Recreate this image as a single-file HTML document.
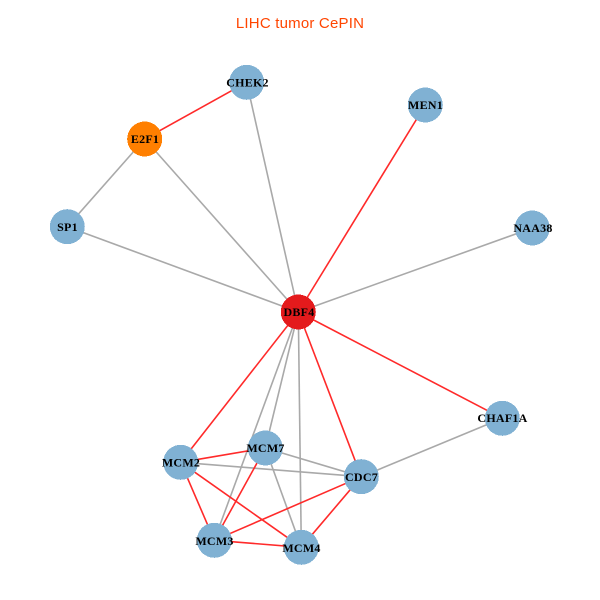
<!DOCTYPE html>
<html><head><meta charset="utf-8"><style>
html,body{margin:0;padding:0;background:#fff;width:600px;height:600px;overflow:hidden}
svg{display:block}
.n text{font:bold 12px "Liberation Serif",serif;fill:#000;text-anchor:middle;letter-spacing:.25px}
.n circle{shape-rendering:crispEdges}
</style></head><body>
<svg width="600" height="600" viewBox="0 0 600 600" xmlns="http://www.w3.org/2000/svg">
<rect width="600" height="600" fill="#fff"/>
<text x="300" y="28" font-family="Liberation Sans, sans-serif" font-size="15" letter-spacing=".2" fill="#FF4500" text-anchor="middle">LIHC tumor CePIN</text>
<g stroke="#A9A9A9" stroke-width="1.6" fill="none">
<line x1="144.7" y1="139" x2="67.3" y2="226.7"/>
<line x1="144.7" y1="139" x2="298.3" y2="312"/>
<line x1="246.7" y1="82.3" x2="298.3" y2="312"/>
<line x1="67.3" y1="226.7" x2="298.3" y2="312"/>
<line x1="532.3" y1="228" x2="298.3" y2="312"/>
<line x1="298.3" y1="312" x2="214.3" y2="540.3"/>
<line x1="298.3" y1="312" x2="265.3" y2="448"/>
<line x1="298.3" y1="312" x2="301.3" y2="547.3"/>
<line x1="180.7" y1="462.3" x2="361.3" y2="476.7"/>
<line x1="265.3" y1="448" x2="361.3" y2="476.7"/>
<line x1="265.3" y1="448" x2="301.3" y2="547.3"/>
<line x1="361.3" y1="476.7" x2="502.3" y2="418.3"/>
</g>
<g stroke="#FF2A2A" stroke-width="1.6" fill="none">
<line x1="144.7" y1="139" x2="246.7" y2="82.3"/>
<line x1="425.3" y1="105" x2="298.3" y2="312"/>
<line x1="298.3" y1="312" x2="180.7" y2="462.3"/>
<line x1="298.3" y1="312" x2="361.3" y2="476.7"/>
<line x1="298.3" y1="312" x2="502.3" y2="418.3"/>
<line x1="180.7" y1="462.3" x2="265.3" y2="448"/>
<line x1="180.7" y1="462.3" x2="214.3" y2="540.3"/>
<line x1="180.7" y1="462.3" x2="301.3" y2="547.3"/>
<line x1="265.3" y1="448" x2="214.3" y2="540.3"/>
<line x1="214.3" y1="540.3" x2="361.3" y2="476.7"/>
<line x1="214.3" y1="540.3" x2="301.3" y2="547.3"/>
<line x1="301.3" y1="547.3" x2="361.3" y2="476.7"/>
</g>
<g class="n">
<circle cx="246.7" cy="82.3" r="17.5" fill="#80B1D3"/><text x="247.5" y="86.5">CHEK2</text>
<circle cx="144.7" cy="139" r="17.5" fill="#FF7F00"/><text x="145" y="143">E2F1</text>
<circle cx="67.3" cy="226.7" r="17.5" fill="#80B1D3"/><text x="67.5" y="231">SP1</text>
<circle cx="425.3" cy="105" r="17.5" fill="#80B1D3"/><text x="425.5" y="109">MEN1</text>
<circle cx="532.3" cy="228" r="17.5" fill="#80B1D3"/><text x="533" y="232">NAA38</text>
<circle cx="298.3" cy="312" r="17.5" fill="#E41A1C"/><text x="299" y="316">DBF4</text>
<circle cx="502.3" cy="418.3" r="17.5" fill="#80B1D3"/><text x="502.5" y="422">CHAF1A</text>
<circle cx="180.7" cy="462.3" r="17.5" fill="#80B1D3"/><text x="181" y="466.5">MCM2</text>
<circle cx="265.3" cy="448" r="17.5" fill="#80B1D3"/><text x="265.5" y="452">MCM7</text>
<circle cx="361.3" cy="476.7" r="17.5" fill="#80B1D3"/><text x="361.5" y="481">CDC7</text>
<circle cx="214.3" cy="540.3" r="17.5" fill="#80B1D3"/><text x="214.5" y="545">MCM3</text>
<circle cx="301.3" cy="547.3" r="17.5" fill="#80B1D3"/><text x="301.5" y="552">MCM4</text>
</g>
</svg>
</body></html>
